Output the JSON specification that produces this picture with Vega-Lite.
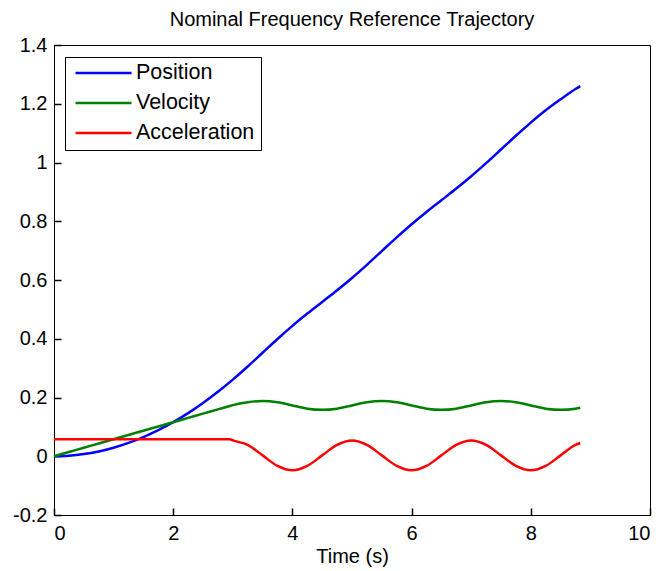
{
  "$schema": "https://vega.github.io/schema/vega-lite/v6.json",
  "width": 596,
  "height": 470,
  "autosize": "none",
  "padding": {"left": 54, "top": 45, "right": 14, "bottom": 56},
  "background": "white",
  "title": {"text": "Nominal Frequency Reference Trajectory", "fontSize": 20, "fontWeight": "normal", "font": "Liberation Sans", "color": "black", "offset": 5},
  "data": {"values": [
    {"t": 0, "Position": 0, "Velocity": 0, "Acceleration": 0.058},
    {"t": 0.25, "Position": 0.0018, "Velocity": 0.0145, "Acceleration": 0.058},
    {"t": 0.5, "Position": 0.0073, "Velocity": 0.029, "Acceleration": 0.058},
    {"t": 0.75, "Position": 0.0163, "Velocity": 0.0435, "Acceleration": 0.058},
    {"t": 1, "Position": 0.029, "Velocity": 0.058, "Acceleration": 0.058},
    {"t": 1.25, "Position": 0.0453, "Velocity": 0.0725, "Acceleration": 0.058},
    {"t": 1.5, "Position": 0.0653, "Velocity": 0.087, "Acceleration": 0.058},
    {"t": 1.75, "Position": 0.0888, "Velocity": 0.1015, "Acceleration": 0.058},
    {"t": 2, "Position": 0.116, "Velocity": 0.116, "Acceleration": 0.058},
    {"t": 2.25, "Position": 0.1468, "Velocity": 0.1305, "Acceleration": 0.058},
    {"t": 2.5, "Position": 0.1813, "Velocity": 0.145, "Acceleration": 0.058},
    {"t": 2.75, "Position": 0.2193, "Velocity": 0.1595, "Acceleration": 0.058},
    {"t": 2.95, "Position": 0.2524, "Velocity": 0.1711, "Acceleration": 0.058},
    {"t": 3, "Position": 0.261, "Velocity": 0.174, "Acceleration": 0.054},
    {"t": 3.25, "Position": 0.3057, "Velocity": 0.184, "Acceleration": 0.039},
    {"t": 3.5, "Position": 0.3524, "Velocity": 0.188, "Acceleration": 0.003},
    {"t": 3.75, "Position": 0.3992, "Velocity": 0.184, "Acceleration": -0.033},
    {"t": 4, "Position": 0.4439, "Velocity": 0.173, "Acceleration": -0.048},
    {"t": 4.25, "Position": 0.4857, "Velocity": 0.162, "Acceleration": -0.033},
    {"t": 4.5, "Position": 0.5254, "Velocity": 0.158, "Acceleration": 0.003},
    {"t": 4.75, "Position": 0.5652, "Velocity": 0.162, "Acceleration": 0.039},
    {"t": 5, "Position": 0.607, "Velocity": 0.173, "Acceleration": 0.054},
    {"t": 5.25, "Position": 0.6517, "Velocity": 0.184, "Acceleration": 0.039},
    {"t": 5.5, "Position": 0.6984, "Velocity": 0.188, "Acceleration": 0.003},
    {"t": 5.75, "Position": 0.7452, "Velocity": 0.184, "Acceleration": -0.033},
    {"t": 6, "Position": 0.7899, "Velocity": 0.173, "Acceleration": -0.048},
    {"t": 6.25, "Position": 0.8317, "Velocity": 0.162, "Acceleration": -0.033},
    {"t": 6.5, "Position": 0.8714, "Velocity": 0.158, "Acceleration": 0.003},
    {"t": 6.75, "Position": 0.9112, "Velocity": 0.162, "Acceleration": 0.039},
    {"t": 7, "Position": 0.953, "Velocity": 0.173, "Acceleration": 0.054},
    {"t": 7.25, "Position": 0.9977, "Velocity": 0.184, "Acceleration": 0.039},
    {"t": 7.5, "Position": 1.0444, "Velocity": 0.188, "Acceleration": 0.003},
    {"t": 7.75, "Position": 1.0912, "Velocity": 0.184, "Acceleration": -0.033},
    {"t": 8, "Position": 1.1359, "Velocity": 0.173, "Acceleration": -0.048},
    {"t": 8.25, "Position": 1.1777, "Velocity": 0.162, "Acceleration": -0.033},
    {"t": 8.5, "Position": 1.215, "Velocity": 0.158, "Acceleration": 0.003},
    {"t": 8.75, "Position": 1.25, "Velocity": 0.162, "Acceleration": 0.039},
    {"t": 8.83, "Position": 1.26, "Velocity": 0.165, "Acceleration": 0.045}
  ]},
  "transform": [{"fold": ["Position", "Velocity", "Acceleration"], "as": ["series", "value"]}],
  "layer": [
    {
      "mark": {"type": "line", "strokeWidth": 2.5, "interpolate": "monotone"},
      "encoding": {
        "x": {"field": "t", "type": "quantitative", "scale": {"domain": [0, 10], "nice": false},
              "axis": {"orient": "bottom", "values": [0, 2, 4, 6, 8, 10], "title": "Time (s)", "ticks": false, "labelPadding": 8, "titlePadding": 3}},
        "y": {"field": "value", "type": "quantitative", "scale": {"domain": [-0.2, 1.4], "nice": false, "zero": false},
              "axis": {"orient": "left", "values": [-0.2, 0, 0.2, 0.4, 0.6, 0.8, 1, 1.2, 1.4], "title": null, "ticks": false, "labelPadding": 7,
                       "labelExpr": "datum.value < 0 ? '-' + format(-datum.value, '~g') : format(datum.value, '~g')"}},
        "color": {"field": "series", "type": "nominal",
                  "scale": {"domain": ["Position", "Velocity", "Acceleration"], "range": ["#0000ff", "#008000", "#ff0000"]},
                  "legend": {"orient": "none", "legendX": 11, "legendY": 12, "title": null}}
      }
    },
    {
      "mark": {"type": "line", "opacity": 0},
      "encoding": {
        "x": {"field": "t", "type": "quantitative", "scale": {"domain": [0, 10], "nice": false},
              "axis": {"orient": "top", "offset": -470, "values": [0, 2, 4, 6, 8, 10], "title": null, "labels": false, "tickColor": "black", "tickSize": 7}},
        "y": {"field": "value", "type": "quantitative", "scale": {"domain": [-0.2, 1.4], "nice": false, "zero": false},
              "axis": {"orient": "right", "offset": -596, "values": [-0.2, 0, 0.2, 0.4, 0.6, 0.8, 1, 1.2, 1.4], "title": null, "labels": false, "tickColor": "black", "tickSize": 7}},
        "detail": {"field": "series", "type": "nominal"}
      }
    }
  ],
  "resolve": {"axis": {"x": "independent", "y": "independent"}},
  "config": {
    "font": "Liberation Sans",
    "view": {"stroke": "black", "strokeWidth": 1},
    "axis": {
      "grid": false,
      "domainColor": "black", "domainWidth": 1,
      "tickWidth": 1.5,
      "labelColor": "black", "labelFont": "Liberation Sans", "labelFontSize": 20,
      "titleColor": "black", "titleFont": "Liberation Sans", "titleFontSize": 20, "titleFontWeight": "normal"
    },
    "legend": {
      "symbolType": "stroke", "symbolSize": 3136, "symbolStrokeWidth": 2.5, "clipHeight": 20,
      "rowPadding": 8, "padding": 6, "symbolOffset": 3, "labelOffset": 3,
      "labelFont": "Liberation Sans", "labelFontSize": 21.5, "labelColor": "black",
      "strokeColor": "black", "strokeWidth": 1, "fillColor": "white"
    }
  }
}
